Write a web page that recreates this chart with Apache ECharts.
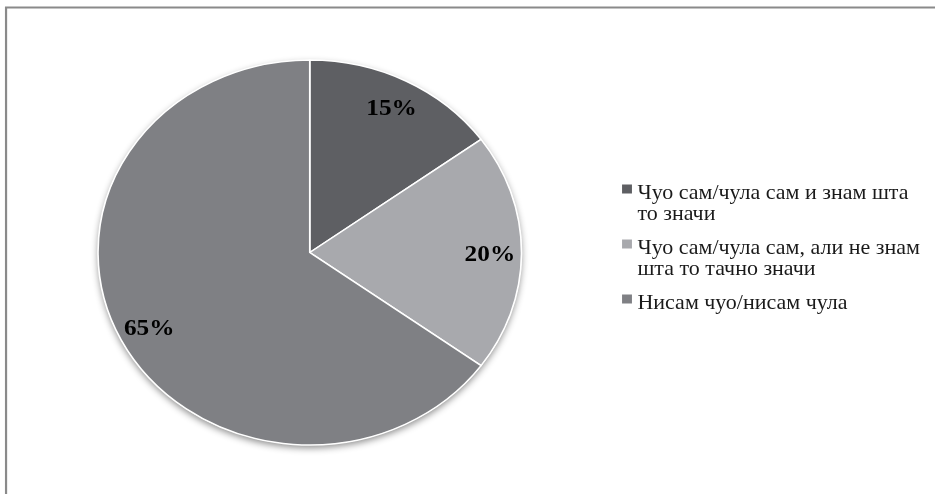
<!DOCTYPE html>
<html>
<head>
<meta charset="utf-8">
<script src="https://cdn.jsdelivr.net/npm/echarts@6/dist/echarts.min.js"></script>
<style>
  html, body { margin: 0; padding: 0; overflow: hidden; background: #fff; }
  #chart { width: 850px; height: 494px; transform-origin: 0 0; }
</style>
</head>
<body>
<div id="chart"></div>
<script>
// ---- data ----
const categories = [
  'Чуо сам/чула сам и знам шта то значи',
  'Чуо сам/чула сам, али не знам шта то тачно значи',
  'Нисам чуо/нисам чула'
];
const values = [15, 20, 65];
const legendLabels = [
  'Чуо сам/чула сам и знам шта\nто значи',
  'Чуо сам/чула сам, али не знам\nшта то тачно значи',
  'Нисам чуо/нисам чула\n'
];
const colors = ['#5e5f63', '#a8a9ad', '#7f8084'];

// ---- layout (unstretched coordinates; the whole picture is stretched horizontally) ----
const STRETCH_X = 1.1;
const CX = 281.6, CY = 252.5, R = 192.5;
const LABEL_R = 0.825; // label distance as fraction of radius
const SERIF = "'Liberation Serif', 'Times New Roman', Times, serif";

const el = document.getElementById('chart');
el.style.transform = 'scaleX(' + STRETCH_X + ')';
const chart = echarts.init(el, null, { renderer: 'svg' });

const markerIcon = 'path://M0,0M0,2.5h9v9h-9zM9,42';

chart.setOption({
  backgroundColor: '#fff',
  animation: false,
  color: colors,
  graphic: [
    {
      type: 'rect', silent: true, z: 0,
      shape: { x: 5.5, y: 7.5, width: 2000, height: 2000 },
      style: { fill: 'none', stroke: '#8a8a8a', lineWidth: 2 }
    },
    {
      type: 'circle', silent: true, z: 0,
      shape: { cx: CX, cy: CY, r: R },
      style: { fill: '#fff', shadowBlur: 7, shadowOffsetY: 3, shadowColor: 'rgba(0,0,0,0.45)' }
    }
  ],
  legend: {
    orient: 'vertical',
    left: 565.5,
    top: 182,
    padding: 0,
    itemWidth: 9,
    itemHeight: 42,
    itemGap: 13,
    selectedMode: false,
    itemStyle: { borderWidth: 0 },
    data: categories.map(n => ({ name: n, icon: markerIcon })),
    formatter: name => legendLabels[categories.indexOf(name)],
    textStyle: {
      fontFamily: SERIF,
      fontSize: 20,
      lineHeight: 21,
      color: '#1a1a1a'
    }
  },
  series: [{
    type: 'pie',
    center: [CX, CY],
    radius: [0, R],
    startAngle: 90,
    clockwise: true,
    avoidLabelOverlap: false,
    silent: true,
    itemStyle: { borderColor: '#fff', borderWidth: 1.5 },
    label: {
      show: true,
      position: 'inside',
      formatter: '{c}%',
      fontFamily: SERIF,
      fontWeight: 'bold',
      fontSize: 23,
      color: '#000'
    },
    labelLine: { show: false },
    labelLayout: function (p) {
      const r = p.labelRect;
      const lx = r.x + r.width / 2, ly = r.y + r.height / 2;
      const k = LABEL_R / 0.5 - 1;
      return { dx: (lx - CX) * k, dy: (ly - CY) * k };
    },
    data: categories.map((n, i) => ({ name: n, value: values[i] }))
  }]
});
</script>
</body>
</html>
